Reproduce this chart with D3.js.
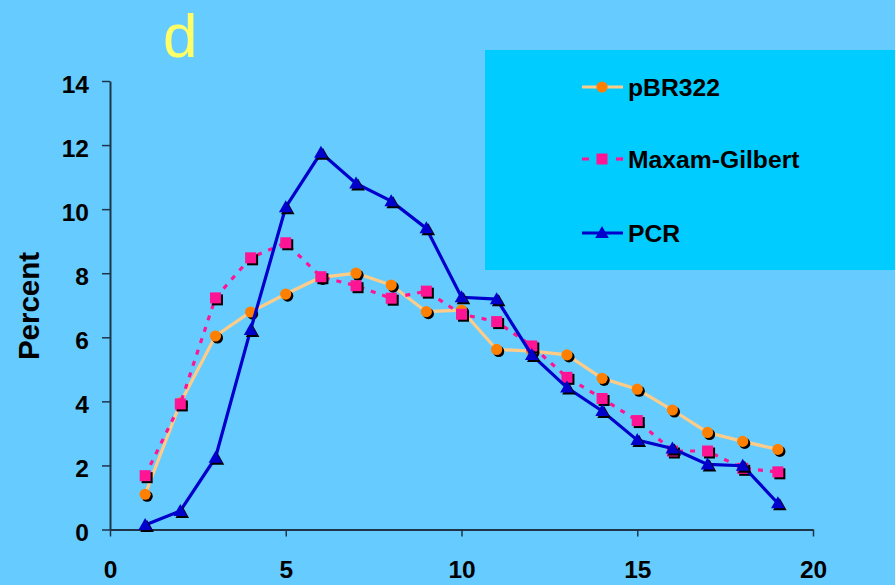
<!DOCTYPE html>
<html>
<head>
<meta charset="utf-8">
<script src="https://cdn.jsdelivr.net/npm/d3@7"></script>
<style>
  html, body { margin: 0; padding: 0; background: #66CCFF; }
  svg { display: block; }
  text { font-family: Arial, "Liberation Sans", sans-serif; }
</style>
</head>
<body>
<script>
// Position along the fragment (1..19)
const positions = [1,2,3,4,5,6,7,8,9,10,11,12,13,14,15,16,17,18,19];

// Percent at each position, per source
const pBR322 = [1.10,3.95,6.04,6.79,7.35,7.87,8.00,7.63,6.80,6.85,5.62,5.57,5.45,4.72,4.38,3.73,3.03,2.75,2.50];
const maxamGilbert = [1.68,3.92,7.23,8.48,8.95,7.89,7.61,7.22,7.44,6.72,6.49,5.73,4.75,4.09,3.40,2.45,2.45,1.91,1.80];
const pcr = [0.14,0.58,2.24,6.23,10.06,11.76,10.80,10.25,9.40,7.25,7.19,5.45,4.43,3.70,2.79,2.53,2.03,1.99,0.82];

const xTicks = [0,5,10,15,20];
const yTicks = [0,2,4,6,8,10,12,14];
const seriesNames = ["pBR322","Maxam-Gilbert","PCR"];

const W = 895, H = 585;
const svg = d3.select("body").append("svg").attr("width", W).attr("height", H);
svg.append("rect").attr("width", W).attr("height", H).attr("fill", "#66CCFF");

const x = d3.scaleLinear().domain([0,20]).range([110,813]);
const y = d3.scaleLinear().domain([0,14]).range([529.5,81]);

// Axes
const axisColor = "#1e3448";
const gx = svg.append("g").attr("transform", `translate(0,${y(0)})`)
  .call(d3.axisBottom(x).tickValues(xTicks).tickSize(7).tickSizeOuter(0).tickPadding(24));
const gy = svg.append("g").attr("transform", `translate(${x(0)},0)`)
  .call(d3.axisLeft(y).tickValues(yTicks).tickSize(8).tickSizeOuter(0).tickPadding(13));
[gx, gy].forEach(g => {
  g.select(".domain").attr("stroke", axisColor).attr("stroke-width", 2);
  g.selectAll(".tick line").attr("stroke", axisColor).attr("stroke-width", 1.5);
  g.selectAll(".tick text").attr("fill", "#000").attr("font-size", 24.5).attr("font-weight", "bold")
    .attr("font-family", "Arial, 'Liberation Sans', sans-serif");
});
gy.selectAll(".tick text").attr("dy", "0.45em");

// Axis title
svg.append("text")
  .attr("transform", `translate(39,306) rotate(-90)`)
  .attr("text-anchor", "middle")
  .attr("font-size", 29.5).attr("font-weight", "bold").attr("fill", "#000")
  .text("Percent");

// Panel letter
svg.append("text").attr("x", 163).attr("y", 57)
  .attr("font-size", 62).attr("fill", "#FFFF66").text("d");

// Legend panel
svg.append("rect").attr("x", 485).attr("y", 50).attr("width", 410).attr("height", 220).attr("fill", "#00CCFF");

// Marker shapes
function markerPath(kind) {
  if (kind === "circle") return d3.symbol(d3.symbolCircle, Math.PI * 5.6 * 5.6)();
  if (kind === "square") return "M-5.5,-5.5H5.5V5.5H-5.5Z";
  return "M0,-7L6.8,5H-6.8Z";
}

const series = [
  { name: seriesNames[0], values: pBR322, line: "#FFCC88", fill: "#FF8000", dash: null, kind: "circle" },
  { name: seriesNames[1], values: maxamGilbert, line: "#FF1493", fill: "#FF1493", dash: "5,7", kind: "square" },
  { name: seriesNames[2], values: pcr, line: "#0000CC", fill: "#0000CC", dash: null, kind: "triangle" }
];

const lineGen = d3.line().x(d => x(d[0])).y(d => y(d[1]));

series.forEach(s => {
  const pts = positions.map((p, i) => [p, s.values[i]]);
  const g = svg.append("g");
  g.append("path").datum(pts).attr("d", lineGen)
    .attr("fill", "none").attr("stroke", s.line).attr("stroke-width", 3.2)
    .attr("stroke-dasharray", s.dash);
  g.selectAll("path.sh").data(pts).join("path").attr("class", "sh")
    .attr("d", markerPath(s.kind))
    .attr("transform", d => `translate(${x(d[0]) + 2},${y(d[1]) + 2})`)
    .attr("fill", "#000");
  g.selectAll("path.mk").data(pts).join("path").attr("class", "mk")
    .attr("d", markerPath(s.kind))
    .attr("transform", d => `translate(${x(d[0])},${y(d[1])})`)
    .attr("fill", s.fill);
});

// Legend entries
const legendY = [87, 159, 233];
series.forEach((s, i) => {
  const ly = legendY[i];
  const g = svg.append("g");
  g.append("line").attr("x1", 582).attr("x2", 623).attr("y1", ly).attr("y2", ly)
    .attr("stroke", s.line).attr("stroke-width", 3.2)
    .attr("stroke-dasharray", s.dash ? "7,32" : null)
    .attr("stroke-dashoffset", 0);
  if (s.dash) {
    g.append("line").attr("x1", 616).attr("x2", 623).attr("y1", ly).attr("y2", ly)
      .attr("stroke", s.line).attr("stroke-width", 3.2);
  }
  g.append("path").attr("d", markerPath(s.kind))
    .attr("transform", `translate(602,${ly})`).attr("fill", s.fill);
  g.append("text").attr("x", 628).attr("y", ly + 9)
    .attr("font-size", 24.7).attr("font-weight", "bold").attr("fill", "#000")
    .text(s.name);
});
</script>
</body>
</html>
